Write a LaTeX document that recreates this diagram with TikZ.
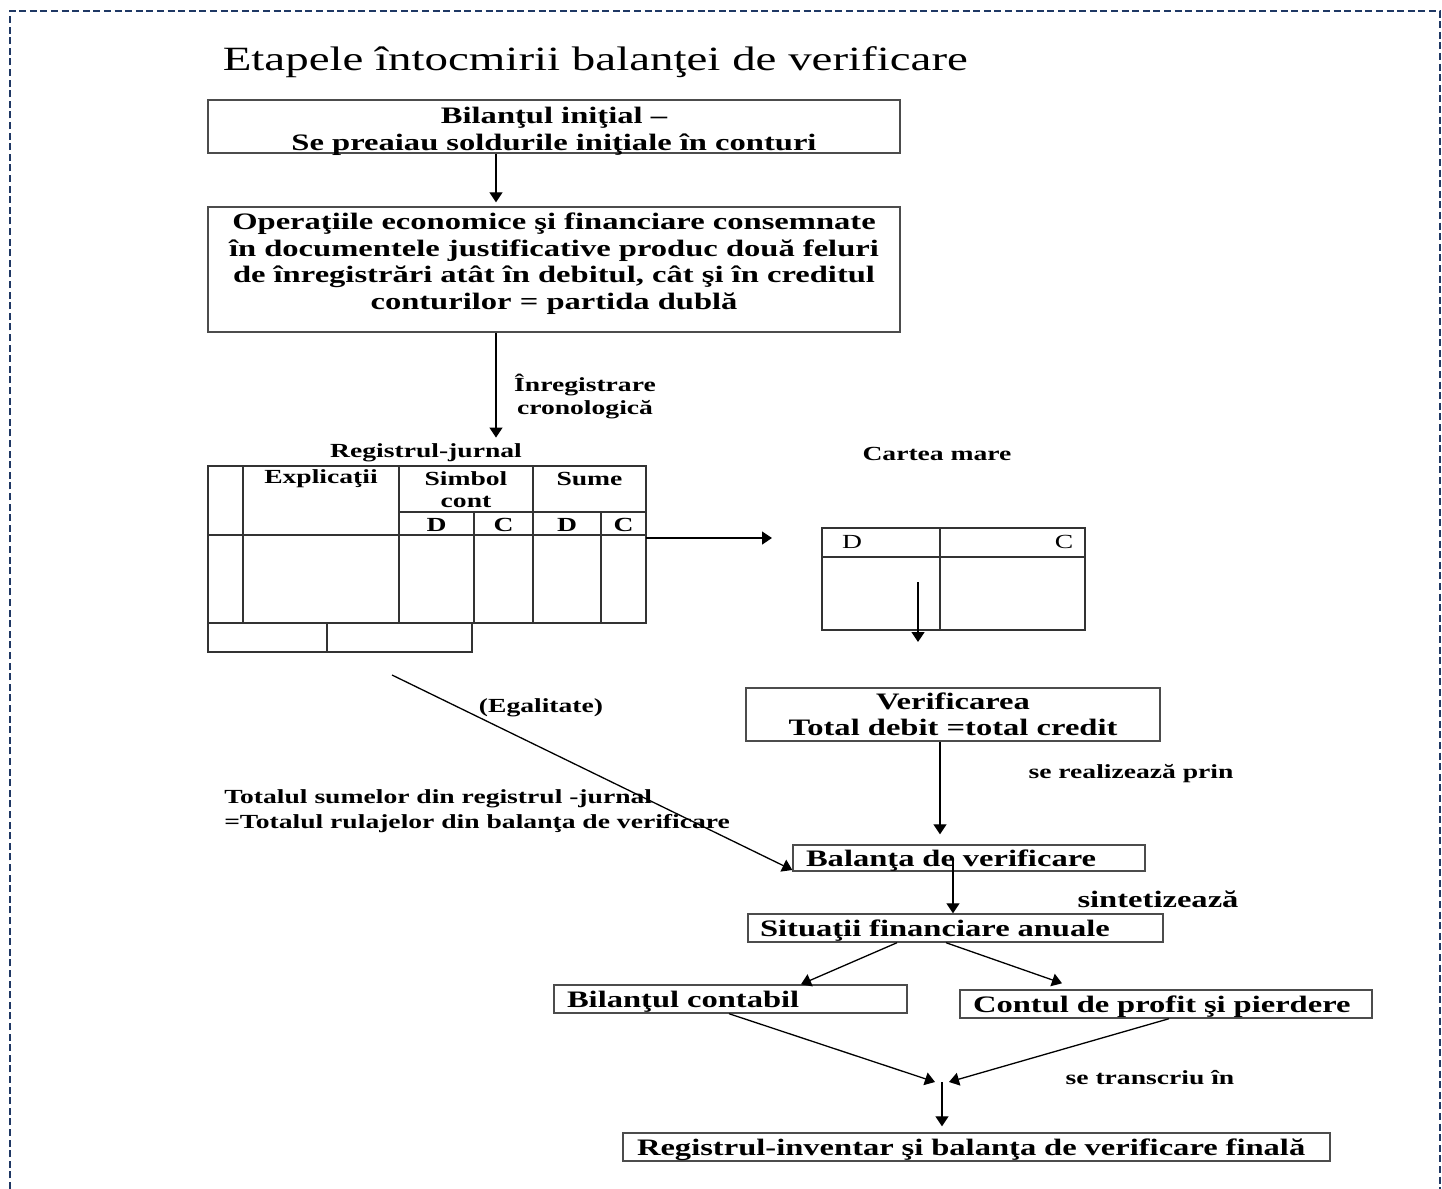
\documentclass[tikz,border=0pt]{standalone}
\usepackage{fontspec}
\setmainfont{Liberation Serif}[FakeStretch=1.38]
\usetikzlibrary{arrows.meta}
\definecolor{framenavy}{RGB}{31,56,100}

\tikzset{every picture/.style={line width=0.75pt}}
\tikzset{
	box/.style={draw=black!70, line width=0.7pt, inner sep=0pt, align=center, font=\bfseries\fontsize{11.8}{13.25}\selectfont},
	lbox/.style={box, align=left, text height=9pt, text depth=1pt},
	boxtext/.style={inner sep=0pt, align=center, font=\bfseries\fontsize{11.8}{13.25}\selectfont},
	lbl/.style={inner sep=0.75pt, align=center, font=\bfseries\fontsize{10}{11.5}\selectfont},
	arr/.style={line width=0.65pt, -{Triangle[length=5pt,width=6.5pt]}},
	grid/.style={draw=black!80, line width=0.65pt},
}

\begin{document}
\begin{tikzpicture}[x=0.5pt,y=0.5pt,yscale=-1,xscale=1]
	\useasboundingbox (0,0) rectangle (1442,1189);

	%Shape: Frame
	\draw [framenavy, line width=1pt, dash pattern={on 3.5pt off 1.8pt}] (10,1189) -- (10,11) -- (1440,11) -- (1440,1189) ;

	% Text Node
	\node [anchor=base west, inner sep=0pt, font=\fontsize{17}{20}\selectfont] (title) at (222,70) {Etapele întocmirii balanţei de verificare};

	%Boxes: initial balance and operations
	\node [box, minimum width=346pt, minimum height=26.5pt] (bilinit) at (554,126.5) {};
	\node [boxtext] (bilinit-t) at ([yshift=2.5pt]bilinit.center) {Bilanţul iniţial –\\Se preaiau soldurile iniţiale în conturi};
	\node [box, minimum width=346pt, minimum height=62.5pt] (operatii) at (554,269.5) {};
	\node [boxtext] (operatii-t) at ([yshift=-3pt]operatii.center) {Operaţiile economice şi financiare consemnate\\în documentele justificative produc două feluri\\de înregistrări atât în debitul, cât şi în creditul\\conturilor = partida dublă};
	\draw [arr, shorten >=2pt] ([xshift=-29pt]bilinit.south) -- ([xshift=-29pt]bilinit.south |- operatii.north) ;

	% Text Node
	\node [lbl] (jurnal) at (426,453) {Registrul-jurnal};
	% Text Node
	\node [lbl] (cronol) at (585,397) {Înregistrare\\cronologică};
	\draw [arr, shorten >=2pt] ([xshift=-29pt]operatii.south) -- ([xshift=-29pt]operatii.south |- jurnal.north) ;

	%Shape: Journal table
	\draw [grid] (208,466) rectangle (646,623) ;
	\draw [grid] (243,466) -- (243,623) (399,466) -- (399,623) (533,466) -- (533,623) ;
	\draw [grid] (399,512) -- (646,512) (474,512) -- (474,623) (601,512) -- (601,623) ;
	\draw [grid] (208,535) -- (646,535) ;
	\draw [grid] (208,623) -- (208,652) -- (472,652) -- (472,623) (327,623) -- (327,652) ;
	\node [lbl] (explic) at (321,479) {Explicaţii};
	\node [lbl, font=\bfseries\fontsize{10}{11}\selectfont] (simbol) at (466,490) {Simbol\\cont};
	\node [lbl] (sume) at (589.5,479) {Sume};
	\node [lbl] (sd) at (436.5,525) {D};
	\node [lbl] (sc) at (503.5,525) {C};
	\node [lbl] (md) at (567,525) {D};
	\node [lbl] (mc) at (623.5,525) {C};

	%Straight Lines: journal to ledger
	\coordinate (jright) at (646,538);
	\coordinate (mareleft) at (772,538);
	\draw [arr] (jright) -- (mareleft) ;

	%Shape: T account
	\node [lbl] (cartea) at (937,454) {Cartea mare};
	\draw [grid] (822,528) rectangle (1085,630) (940,528) -- (940,630) (822,557) -- (1085,557) ;
	\node [lbl, font=\fontsize{10}{11.5}\selectfont] (td) at (852,542) {D};
	\node [lbl, font=\fontsize{10}{11.5}\selectfont] (tc) at (1064,542) {C};
	\coordinate (tdown) at (918,582);
	\draw [arr] (tdown) -- ++(0,60) ;

	%Boxes: check and trial balance
	\node [box, minimum width=207pt, minimum height=26.5pt] (verif) at (953,714.5) {Verificarea\\Total debit =total credit};
	\node [lbox, minimum width=176pt, minimum height=13pt, text width=163pt, inner xsep=6.5pt] (bal) at (969,858) {Balanţa de verificare};
	\draw [arr, shorten >=5pt] ([xshift=-6.5pt]verif.south) -- ([xshift=-6.5pt]verif.south |- bal.north) ;
	% Text Node
	\node [lbl] (realiz) at (1131,774) {se realizează prin};

	%Straight Lines: equality
	\coordinate (egalstart) at (392,675);
	\draw [arr] (egalstart) -- ([yshift=6pt]bal.west) ;
	% Text Node
	\node [lbl] (egal) at (541,708) {(Egalitate)};
	% Text Node
	\node [lbl, anchor=west, align=left, font=\bfseries\fontsize{10}{12.5}\selectfont] (totalul) at (222,811) {Totalul sumelor din registrul -jurnal\\=Totalul rulajelor din balanţa de verificare};

	%Boxes: annual statements
	\node [lbox, minimum width=207.5pt, minimum height=14pt, text width=195.5pt, inner xsep=6pt] (sit) at (955.5,928) {Situaţii financiare anuale};
	\draw [arr] ([xshift=-8pt]bal.center) -- ([xshift=-8pt]bal.center |- sit.north) ;
	% Text Node
	\node [lbl, font=\bfseries\fontsize{11.8}{13.25}\selectfont] (sintet) at (1158,899) {sintetizează};

	\node [lbox, minimum width=176.5pt, minimum height=14pt, text width=163.5pt, inner xsep=6.5pt] (bil) at (730.5,999) {Bilanţul contabil};
	\node [lbox, minimum width=206pt, minimum height=14pt, text width=193pt, inner xsep=6.5pt] (cpp) at (1166,1004) {Contul de profit şi pierdere};
	\draw [arr] ([xshift=-29.25pt]sit.south) -- ([xshift=35.25pt]bil.north) ;
	\draw [arr] ([xshift=-4.75pt]sit.south) -- ([xshift=-52pt,yshift=-3pt]cpp.north) ;

	%Straight Lines: into final register
	\node [lbox, minimum width=353.5pt, minimum height=14pt, text width=339.5pt, inner xsep=7pt] (inv) at (976.5,1147) {Registrul-inventar şi balanţa de verificare finală};
	\coordinate (join) at (942,1082);
	\draw [arr] ([xshift=-0.75pt]bil.south) -- ([xshift=-3.5pt]join) ;
	\draw [arr] ([xshift=1.5pt]cpp.south) -- ([xshift=3.5pt]join) ;
	\draw [arr, shorten >=3pt] (join) -- (join |- inv.north) ;
	% Text Node
	\node [lbl] (transcr) at (1150,1078) {se transcriu în};
\end{tikzpicture}
\end{document}
